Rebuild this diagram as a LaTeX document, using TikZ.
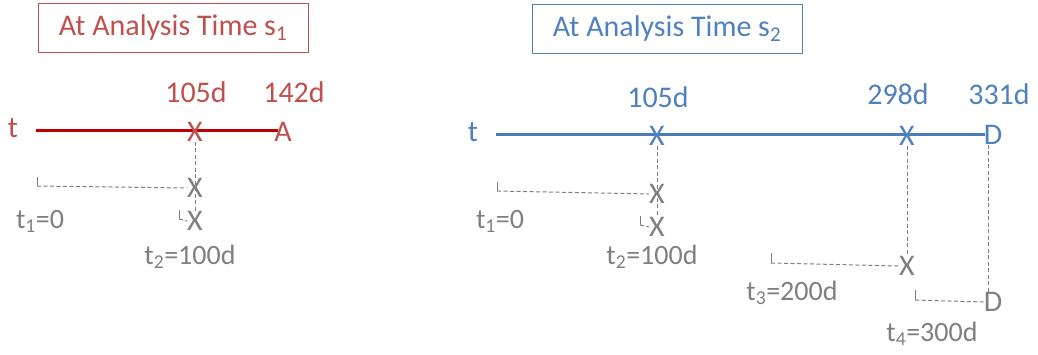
\documentclass[tikz,border=0pt]{standalone}
\usepackage{fontspec}
\setmainfont{Carlito}
\definecolor{rtxt}{HTML}{C0504D}
\definecolor{rline}{HTML}{C00000}
\definecolor{btxt}{HTML}{4F81BD}
\definecolor{bline}{HTML}{4A7EBB}
\definecolor{gr}{HTML}{7F7F7F}
\begin{document}
\begin{tikzpicture}[x=1pt,y=-1pt,
  lbl/.style={inner sep=0pt,font=\fontsize{30}{34}\selectfont},
  glbl/.style={inner sep=0pt,font=\fontsize{28}{32}\selectfont,text=gr},
  ttl/.style={draw,line width=1pt,minimum width=270pt,minimum height=49pt,font=\fontsize{30}{34}\selectfont},
  mk/.style={inner sep=0pt,font=\fontsize{30}{34}\selectfont},
  dsh/.style={draw=gr,line width=1pt,dash pattern=on 4pt off 2.5pt},
  tick/.style={draw=gr,line width=1pt}]
\useasboundingbox (0,0) rectangle (1038,355);
% ---------- left panel ----------
\node[ttl,draw=rtxt,text=rtxt] (T1) at (173,28) {At Analysis Time s\textsubscript{1}};
\node[lbl,text=rtxt] (lt) at (13,128) {t};
\coordinate (ls) at (36,131);
\coordinate (le) at (278,131);
\draw[rline,line width=3pt] (ls) -- (le);
\node[mk,text=rtxt] (rx) at (195,132) {X};
\node[mk,text=rtxt] (ra) at (283,132) {A};
\node[lbl,text=rtxt] (l105) at (196,92) {105d};
\node[lbl,text=rtxt] (l142) at (294,92) {142d};
\node[mk,text=gr] (g1) at (195,188) {X};
\node[mk,text=gr] (g2) at (195,221) {X};
\draw[dsh] (rx.south) -- (g2.north);
\coordinate (c1) at (37,186);
\coordinate (c1t) at (37,177);
\draw[tick] (c1t) -- (c1);
\draw[dsh] (c1) -- (g1.west);
\coordinate (c2) at (179,219);
\coordinate (c2t) at (179,210);
\draw[tick] (c2t) -- (c2);
\draw[dsh] (c2) -- (g2.west);
\node[glbl] (lt1) at (40,221) {t\textsubscript{1}=0};
\node[glbl] (lt2) at (190,257) {t\textsubscript{2}=100d};
% ---------- right panel ----------
\node[ttl,draw=btxt,text=btxt] (T2) at (667,29) {At Analysis Time s\textsubscript{2}};
\node[lbl,text=btxt] (rt) at (473,132) {t};
\coordinate (bs) at (496,135);
\coordinate (be) at (985,135);
\draw[bline,line width=3pt] (bs) -- (be);
\node[mk,text=btxt] (bx1) at (657,136) {X};
\node[mk,text=btxt] (bx2) at (907,136) {X};
\node[mk,text=btxt] (bd) at (993,135) {D};
\node[lbl,text=btxt] (r105) at (658,97) {105d};
\node[lbl,text=btxt] (r298) at (898,94) {298d};
\node[lbl,text=btxt] (r331) at (999,94) {331d};
\node[mk,text=gr] (h1) at (657,194) {X};
\node[mk,text=gr] (h2) at (657,227) {X};
\node[mk,text=gr] (h3) at (907,266) {X};
\node[mk,text=gr] (h4) at (993,302) {D};
\draw[dsh] (bx1.south) -- (h2.north);
\draw[dsh] (bx2.south) -- (h3.north);
\draw[dsh] ([xshift=-5pt]bd.south) -- ([xshift=-5pt]h4.north);
\coordinate (d1) at (497,191);
\coordinate (d1t) at (497,182);
\draw[tick] (d1t) -- (d1);
\draw[dsh] (d1) -- (h1.west);
\coordinate (d2) at (640,225);
\coordinate (d2t) at (640,216);
\draw[tick] (d2t) -- (d2);
\draw[dsh] (d2) -- (h2.west);
\coordinate (d3) at (771,263);
\coordinate (d3t) at (771,253);
\draw[tick] (d3t) -- (d3);
\draw[dsh] (d3) -- (h3.west);
\coordinate (d4) at (915,300);
\coordinate (d4t) at (915,290);
\draw[tick] (d4t) -- (d4);
\draw[dsh] (d4) -- (h4.west);
\node[glbl] (rt1) at (500,221) {t\textsubscript{1}=0};
\node[glbl] (rt2) at (652,257) {t\textsubscript{2}=100d};
\node[glbl] (rt3) at (792,293) {t\textsubscript{3}=200d};
\node[glbl] (rt4) at (932,334) {t\textsubscript{4}=300d};
\end{tikzpicture}
\end{document}
